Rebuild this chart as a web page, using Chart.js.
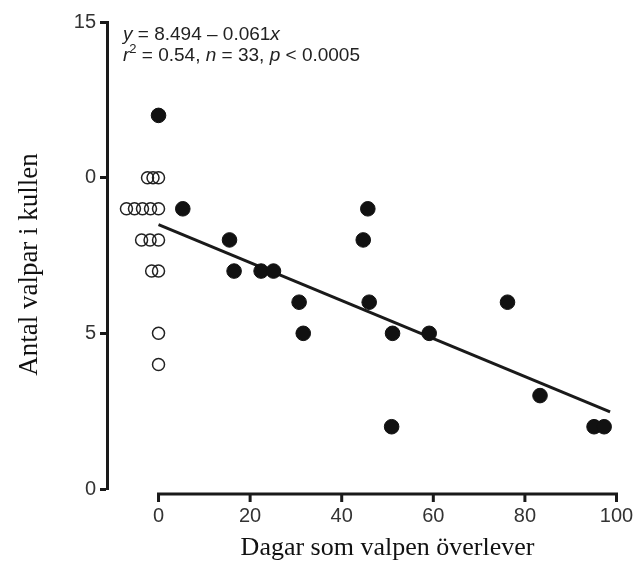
<!DOCTYPE html>
<html>
<head>
<meta charset="utf-8">
<script src="https://cdn.jsdelivr.net/npm/chart.js@4"></script>
<style>
  html, body { margin: 0; padding: 0; background: #fff; }
</style>
</head>
<body>
<canvas id="chart" width="635" height="566"></canvas>
<script>
// tick values and labels (the 10-label reads "0" in the original figure)
var xTicks = [0, 20, 40, 60, 80, 100];
var yTicks = [0, 5, 10, 15];
var yTickLabels = ['0', '5', '0', '15'];

var xTitle = 'Dagar som valpen överlever';
var yTitle = 'Antal valpar i kullen';

// open circles: puppies at ~0 days, spread sideways
var openX = [-2.4, -1.2, 0,  -7, -5.25, -3.5, -1.75, 0,  -3.7, -1.85, 0,  -1.5, 0,  0, 0];
var openY = [10, 10, 10,  9, 9, 9, 9, 9,  8, 8, 8,  7, 7,  5, 4];

// filled circles
var filledX = [0, 5.3, 15.5, 16.5, 22.4, 25.1, 30.7, 31.6, 44.7, 45.7, 46, 51.1, 59.1, 76.2, 83.3, 50.9, 95.1, 97.3];
var filledY = [12, 9, 8, 7, 7, 7, 6, 5, 8, 9, 6, 5, 5, 6, 3, 2, 2, 2];

// regression y = 8.494 - 0.061x
var intercept = 8.494;
var slope = -0.061;
var fitX = [0, 98.6];

var sans = '"Liberation Sans", Arial, Helvetica, sans-serif';
var serif = '"Liberation Serif", "Times New Roman", serif';
var ink = '#1a1a1a';

function pts(xs, ys) {
  return xs.map(function (v, i) { return { x: v, y: ys[i] }; });
}

var fitLine = fitX.map(function (v) { return { x: v, y: intercept + slope * v }; });

// x axis sits apart from the y axis: drawn from 0 to 100 only
var extraAxes = {
  id: 'extraAxes',
  afterDraw: function (chart) {
    var ctx = chart.ctx;
    var xs = chart.scales.x, ys = chart.scales.y;
    var yLine = ys.getPixelForValue(0) + 5;
    var x0 = xs.getPixelForValue(xTicks[0]);
    var x1 = xs.getPixelForValue(xTicks[xTicks.length - 1]);
    ctx.save();
    ctx.strokeStyle = ink;
    ctx.lineWidth = 3;
    ctx.lineCap = 'butt';
    ctx.beginPath();
    ctx.moveTo(x0 - 1.5, yLine);
    ctx.lineTo(x1 + 1.5, yLine);
    xTicks.forEach(function (v) {
      var px = xs.getPixelForValue(v);
      ctx.moveTo(px, yLine);
      ctx.lineTo(px, yLine + 8);
    });
    ctx.stroke();

    // axis titles
    ctx.fillStyle = '#111';
    ctx.textAlign = 'center';
    ctx.textBaseline = 'middle';
    ctx.font = '26px ' + serif;
    ctx.fillText(xTitle, (x0 + x1) / 2, 548);
    ctx.save();
    ctx.font = '27px ' + serif;
    ctx.translate(30, (ys.getPixelForValue(15) + ys.getPixelForValue(0)) / 2 + 9);
    ctx.rotate(-Math.PI / 2);
    ctx.fillText(yTitle, 0, 0);
    ctx.restore();

    // equation text
    ctx.fillStyle = '#222';
    ctx.textBaseline = 'alphabetic';
    ctx.textAlign = 'left';
    function runs(list, x, y) {
      list.forEach(function (r) {
        ctx.font = (r.i ? 'italic ' : '') + (r.sup ? 13 : 19) + 'px ' + sans;
        ctx.fillText(r.t, x, r.sup ? y - 8 : y);
        x += ctx.measureText(r.t).width;
      });
    }
    var tx = 123;
    runs([{ t: 'y', i: true }, { t: ' = 8.494 \u2013 0.061' }, { t: 'x', i: true }], tx, 40);
    runs([{ t: 'r', i: true }, { t: '2', sup: true }, { t: ' = 0.54, ' }, { t: 'n', i: true },
          { t: ' = 33, ' }, { t: 'p', i: true }, { t: ' < 0.0005' }], tx, 61);
    ctx.restore();
  }
};

var chart = new Chart(document.getElementById('chart').getContext('2d'), {
  type: 'scatter',
  data: {
    datasets: [
      {
        label: 'open',
        data: pts(openX, openY),
        pointRadius: 6,
        pointBorderWidth: 1.5,
        borderColor: '#222',
        backgroundColor: 'rgba(0,0,0,0)'
      },
      {
        label: 'filled',
        data: pts(filledX, filledY),
        pointRadius: 7.3,
        pointBorderWidth: 1,
        borderColor: '#111',
        backgroundColor: '#111'
      },
      {
        type: 'line',
        label: 'fit',
        data: fitLine,
        borderColor: ink,
        borderWidth: 3,
        pointRadius: 0,
        fill: false
      }
    ]
  },
  options: {
    responsive: false,
    animation: false,
    layout: { padding: { left: 0, top: 22, right: 18.5, bottom: 0 } },
    plugins: {
      legend: { display: false },
      tooltip: { enabled: false }
    },
    scales: {
      x: {
        type: 'linear',
        min: -11.25,
        max: 100,
        afterFit: function (s) { s.height = 77; s.paddingLeft = 0; s.paddingRight = 0; },
        afterBuildTicks: function (s) { s.ticks = xTicks.map(function (v) { return { value: v }; }); },
        border: { display: false },
        grid: { display: false, drawTicks: false },
        ticks: {
          padding: 15,
          autoSkip: false,
          maxRotation: 0,
          color: '#333',
          font: { family: sans, size: 20 }
        }
      },
      y: {
        type: 'linear',
        min: 0,
        max: 15,
        afterFit: function (s) { s.width = 107; s.paddingTop = 0; s.paddingBottom = 0; },
        afterBuildTicks: function (s) { s.ticks = yTicks.map(function (v) { return { value: v }; }); },
        border: { display: true, color: ink, width: 3 },
        grid: {
          display: true,
          drawOnChartArea: false,
          drawTicks: true,
          tickLength: 7,
          tickWidth: 3,
          tickColor: ink
        },
        ticks: {
          padding: 4,
          color: '#333',
          font: { family: sans, size: 20 },
          callback: function (v, i) { return yTickLabels[i]; }
        }
      }
    }
  },
  plugins: [extraAxes]
});
</script>
</body>
</html>
